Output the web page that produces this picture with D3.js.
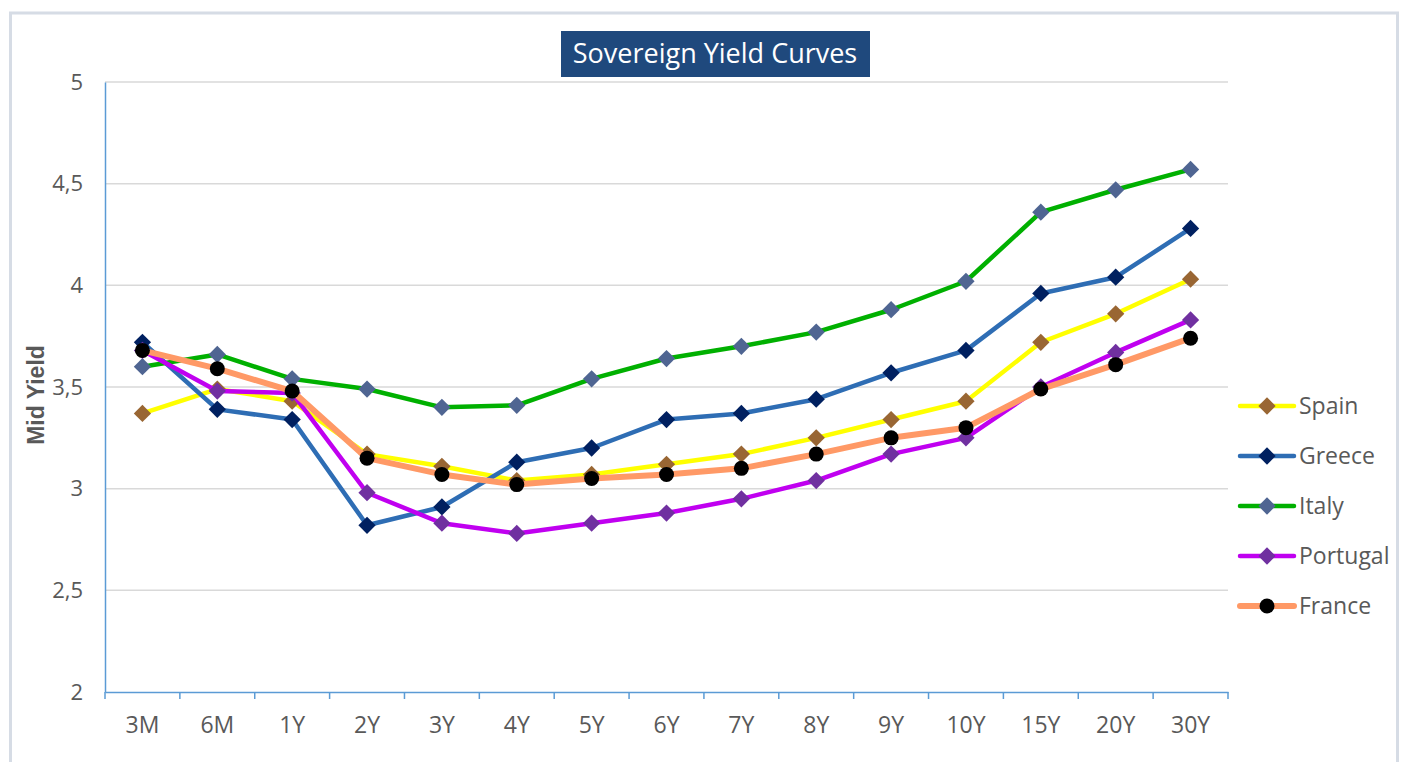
<!DOCTYPE html>
<html>
<head>
<meta charset="utf-8">
<script src="https://cdn.jsdelivr.net/npm/d3@7"></script>
<style>
  html, body { margin: 0; padding: 0; background: #ffffff; }
  svg { display: block; font-family: "Open Sans", "Liberation Sans", sans-serif; }
</style>
</head>
<body>
<div id="chart"></div>
<script>
// Tenors on the x axis
const tenors = ["3M", "6M", "1Y", "2Y", "3Y", "4Y", "5Y", "6Y", "7Y", "8Y", "9Y", "10Y", "15Y", "20Y", "30Y"];

// Mid yields per country
const spain    = [3.37, 3.49, 3.43, 3.17, 3.11, 3.04, 3.07, 3.12, 3.17, 3.25, 3.34, 3.43, 3.72, 3.86, 4.03];
const greece   = [3.72, 3.39, 3.34, 2.82, 2.91, 3.13, 3.20, 3.34, 3.37, 3.44, 3.57, 3.68, 3.96, 4.04, 4.28];
const italy    = [3.60, 3.66, 3.54, 3.49, 3.40, 3.41, 3.54, 3.64, 3.70, 3.77, 3.88, 4.02, 4.36, 4.47, 4.57];
const portugal = [3.68, 3.48, 3.47, 2.98, 2.83, 2.78, 2.83, 2.88, 2.95, 3.04, 3.17, 3.25, 3.50, 3.67, 3.83];
const france   = [3.68, 3.59, 3.48, 3.15, 3.07, 3.02, 3.05, 3.07, 3.10, 3.17, 3.25, 3.30, 3.49, 3.61, 3.74];

const yTicks = [2, 2.5, 3, 3.5, 4, 4.5, 5];

const series = [
    { name: "Spain",    values: spain,    line: "#FFFF00", marker: "#996633", shape: "diamond" },
    { name: "Greece",   values: greece,   line: "#2E6DB4", marker: "#002060", shape: "diamond" },
    { name: "Italy",    values: italy,    line: "#00B000", marker: "#4F6592", shape: "diamond" },
    { name: "Portugal", values: portugal, line: "#C000F0", marker: "#7030A0", shape: "diamond" },
    { name: "France",   values: france,   line: "#FF9966", marker: "#000000", shape: "circle" }
];

const W = 1401, H = 762;
const plot = { left: 105, right: 1228, top: 82, bottom: 692 };

const svg = d3.select("#chart")
    .append("svg")
    .attr("width", W)
    .attr("height", H);

// Outer frame
svg.append("rect")
    .attr("x", 10.5)
    .attr("y", 13)
    .attr("width", 1387)
    .attr("height", 770)
    .attr("fill", "#ffffff")
    .attr("stroke", "#D6DCE5")
    .attr("stroke-width", 3);

const x = d3.scaleBand()
    .domain(tenors)
    .range([plot.left, plot.right]);

const y = d3.scaleLinear()
    .domain([2, 5])
    .range([plot.bottom, plot.top]);

const fmt = d => String(d).replace(".", ",");

// Gridlines
svg.append("g")
    .selectAll("line")
    .data(yTicks.filter(d => d > 2))
    .join("line")
    .attr("x1", plot.left)
    .attr("x2", plot.right)
    .attr("y1", d => y(d))
    .attr("y2", d => y(d))
    .attr("stroke", "#D9D9D9")
    .attr("stroke-width", 1.5);

// Y axis
const yAxis = svg.append("g")
    .attr("transform", `translate(${plot.left},0)`)
    .call(d3.axisLeft(y).tickValues(yTicks).tickFormat(fmt).tickSize(0).tickPadding(22));
yAxis.select(".domain").attr("stroke", "#5B9BD5").attr("stroke-width", 1.5);
yAxis.selectAll("text")
    .attr("fill", "#595959")
    .style("font-size", "22px")
    .style("font-family", "Open Sans, sans-serif");

// X axis
const xAxis = svg.append("g")
    .attr("transform", `translate(0,${plot.bottom})`)
    .call(d3.axisBottom(x).tickSize(0).tickPadding(25));
xAxis.select(".domain").attr("stroke", "#5B9BD5").attr("stroke-width", 1.5);
xAxis.selectAll("text")
    .attr("fill", "#595959")
    .style("font-size", "23px")
    .style("font-family", "Open Sans, sans-serif");

// Category boundary ticks
xAxis.append("g")
    .selectAll("line")
    .data(tenors.concat(["_end"]))
    .join("line")
    .attr("x1", (d, i) => plot.left + i * x.step())
    .attr("x2", (d, i) => plot.left + i * x.step())
    .attr("y1", 0)
    .attr("y2", 7)
    .attr("stroke", "#5B9BD5")
    .attr("stroke-width", 1.5);

// Y axis label
svg.append("text")
    .attr("transform", `translate(44, ${(plot.top + plot.bottom) / 2 + 8}) rotate(-90)`)
    .attr("text-anchor", "middle")
    .attr("fill", "#595959")
    .style("font-size", "23px")
    .style("font-weight", "bold")
    .style("font-family", "Liberation Sans, Arial, sans-serif")
    .text("Mid Yield");

// Title
const title = svg.append("g").attr("transform", "translate(715, 54)");
title.append("rect")
    .attr("x", -154)
    .attr("y", -23)
    .attr("width", 309)
    .attr("height", 46)
    .attr("fill", "#1F497D");
title.append("text")
    .attr("text-anchor", "middle")
    .attr("dy", "0.35em")
    .attr("fill", "#ffffff")
    .style("font-size", "27px")
    .style("font-family", "Open Sans, sans-serif")
    .text("Sovereign Yield Curves");

const line = d3.line()
    .x((d, i) => x(tenors[i]) + x.bandwidth() / 2)
    .y(d => y(d));

const diamond = d3.symbol().type(d3.symbolDiamond2).size(190);

function drawMarker(g, s) {
    if (s.shape === "circle") {
        g.append("circle").attr("r", 7.5).attr("fill", s.marker);
    } else {
        g.append("path").attr("d", diamond).attr("fill", s.marker);
    }
}

// Series lines and markers
series.forEach(s => {
    const g = svg.append("g");
    g.append("path")
        .datum(s.values)
        .attr("fill", "none")
        .attr("stroke", s.line)
        .attr("stroke-width", s.name === "France" ? 6 : 4.5)
        .attr("stroke-linejoin", "round")
        .attr("d", line);
    g.selectAll("g.m")
        .data(s.values)
        .join("g")
        .attr("class", "m")
        .attr("transform", (d, i) => `translate(${x(tenors[i]) + x.bandwidth() / 2},${y(d)})`)
        .each(function () { drawMarker(d3.select(this), s); });
});

// Legend
const legend = svg.append("g").attr("transform", "translate(1239, 406)");
series.forEach((s, i) => {
    const row = legend.append("g").attr("transform", `translate(0, ${i * 50})`);
    row.append("line")
        .attr("x1", 1)
        .attr("x2", 55)
        .attr("stroke", s.line)
        .attr("stroke-width", s.name === "France" ? 6 : 4.5)
        .attr("stroke-linecap", "round");
    const m = row.append("g").attr("transform", "translate(28,0)");
    drawMarker(m, s);
    row.append("text")
        .attr("x", 60)
        .attr("dy", "0.35em")
        .attr("fill", "#595959")
        .style("font-size", "23px")
        .style("font-family", "Open Sans, sans-serif")
        .text(s.name);
});
</script>
</body>
</html>
